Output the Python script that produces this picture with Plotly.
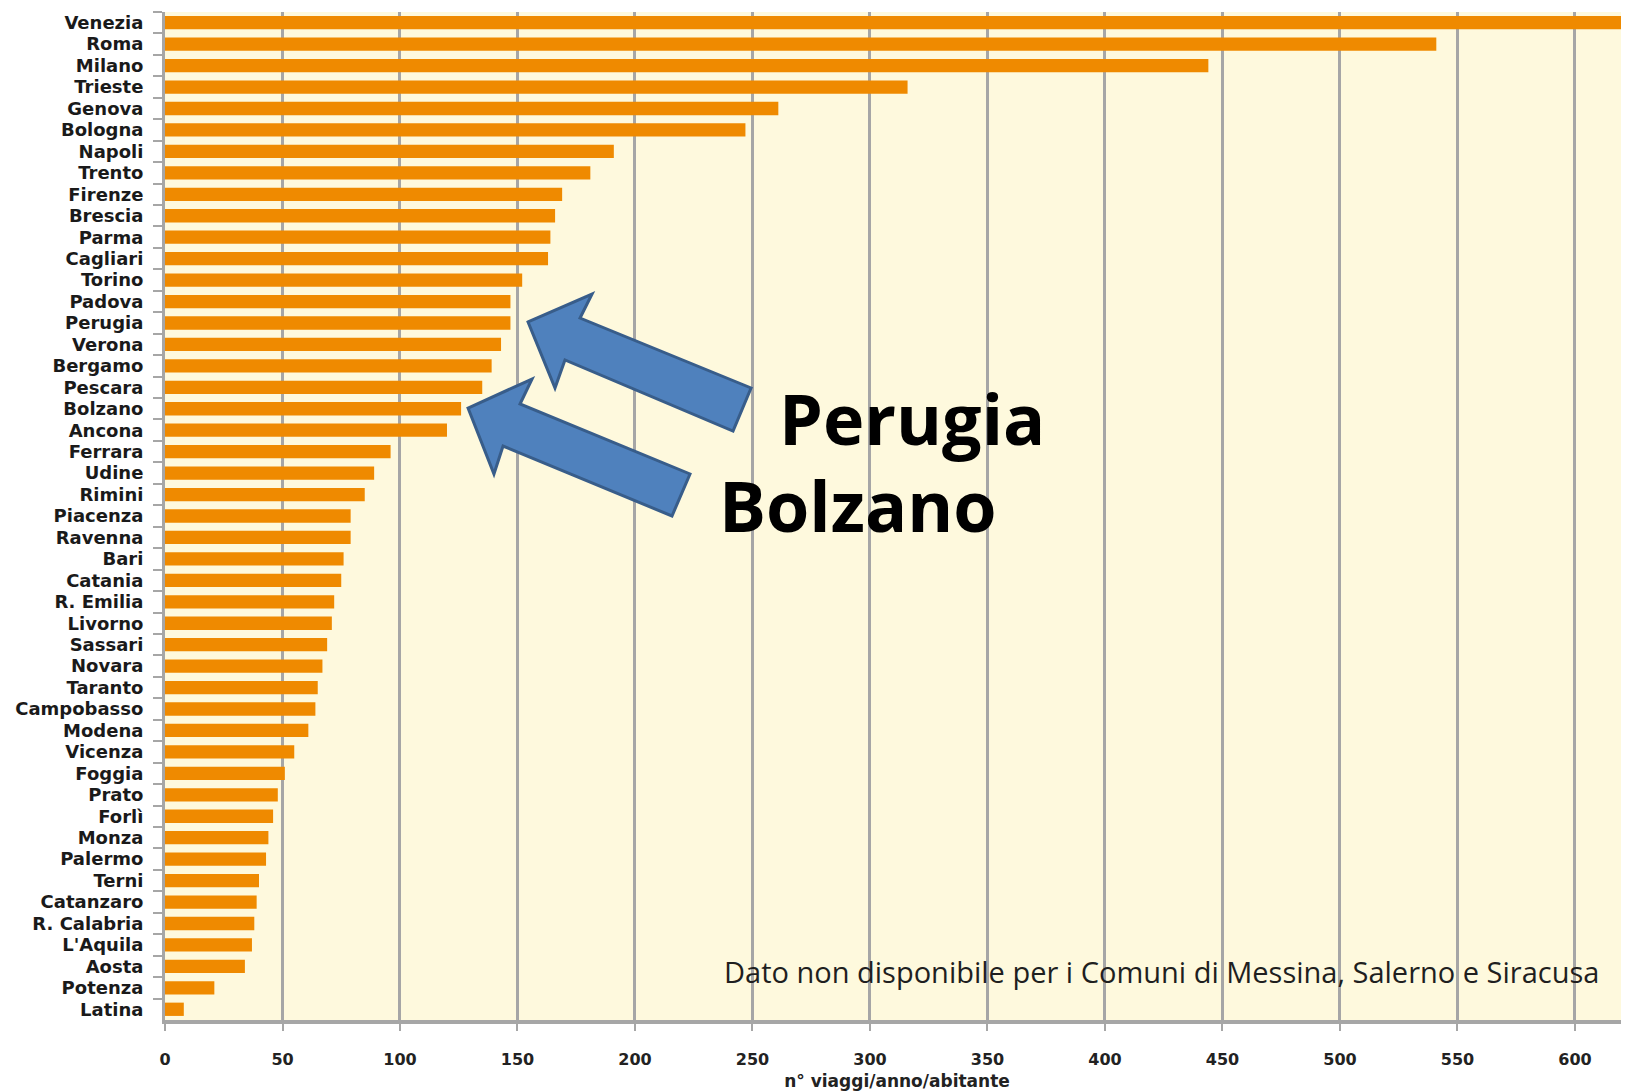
import plotly.graph_objects as go

# ---------- DATA ----------
cities = [
    "Venezia", "Roma", "Milano", "Trieste", "Genova", "Bologna", "Napoli", "Trento",
    "Firenze", "Brescia", "Parma", "Cagliari", "Torino", "Padova", "Perugia", "Verona",
    "Bergamo", "Pescara", "Bolzano", "Ancona", "Ferrara", "Udine", "Rimini", "Piacenza",
    "Ravenna", "Bari", "Catania", "R. Emilia", "Livorno", "Sassari", "Novara", "Taranto",
    "Campobasso", "Modena", "Vicenza", "Foggia", "Prato", "Forlì", "Monza", "Palermo",
    "Terni", "Catanzaro", "R. Calabria", "L'Aquila", "Aosta", "Potenza", "Latina",
]
trips = [
    650, 541, 444, 316, 261, 247, 191, 181,
    169, 166, 164, 163, 152, 147, 147, 143,
    139, 135, 126, 120, 96, 89, 85, 79,
    79, 76, 75, 72, 71, 69, 67, 65,
    64, 61, 55, 51, 48, 46, 44, 43,
    40, 39, 38, 37, 34, 21, 8,
]
x_ticks = list(range(0, 601, 50))

highlight = ["Perugia", "Bolzano"]
note = "Dato non disponibile per i Comuni di Messina, Salerno e Siracusa"
x_title = "n° viaggi/anno/abitante"

# ---------- LAYOUT HELPERS ----------
OFF = 8                      # page body margin around the figure
W, H = 1629 - OFF, 1091 - OFF
L, R, T, B = 157, 0, 4, 71


def px(x, y):
    # pixel position on the page -> paper coordinates
    x, y = x - OFF, y - OFF
    return (x - L) / (W - L - R), (H - B - y) / (H - T - B)


def arrow_path(points):
    pts = [px(*p) for p in points]
    return "M " + " L ".join(f"{a:.4f},{b:.4f}" for a, b in pts) + " Z"


# block arrows: tip, top barb, inner top, tail top, tail bottom, inner bottom, bottom barb
arrow_upper = [(528, 322), (592, 294), (580, 318), (751, 388), (733, 431), (565, 360), (555, 388)]
arrow_lower = [(468, 408), (532, 379), (520, 404), (690, 474), (672, 516), (503, 446), (494, 474)]

FONT = "Open Sans, Arial, sans-serif"
AXFONT = "DejaVu Sans, Arial, sans-serif"

fig = go.Figure(go.Bar(
    x=trips,
    y=cities,
    orientation="h",
    width=0.62,
    marker=dict(color="#EF8A00", line=dict(width=0)),
))

for pts in (arrow_upper, arrow_lower):
    fig.add_shape(type="path", path=arrow_path(pts), xref="paper", yref="paper",
                  fillcolor="#4F81BD", line=dict(color="#385D8A", width=3), layer="above")

# big labels
tx, ty = px(777, 418)
fig.add_annotation(text="<b>" + highlight[0] + "</b>", x=tx, y=ty, xref="paper", yref="paper",
                   xanchor="left", yanchor="middle", showarrow=False,
                   font=dict(family=FONT, size=70, color="#000000"))
tx, ty = px(717, 505)
fig.add_annotation(text="<b>" + highlight[1] + "</b>", x=tx, y=ty, xref="paper", yref="paper",
                   xanchor="left", yanchor="middle", showarrow=False,
                   font=dict(family=FONT, size=70, color="#000000"))

# footnote inside the plot
tx, ty = px(1601, 971)
fig.add_annotation(text=note, x=tx, y=ty, xref="paper", yref="paper",
                   xanchor="right", yanchor="middle", showarrow=False,
                   font=dict(family=FONT, size=29, color="#1f1f1f"))

fig.update_layout(
    width=W, height=H,
    margin=dict(l=L, r=R, t=T, b=B, autoexpand=False),
    paper_bgcolor="white",
    plot_bgcolor="#FEF9DD",
    showlegend=False,
)
fig.update_xaxes(
    range=[0, 623],
    tickvals=x_ticks,
    showgrid=True, gridcolor="#A6A6A6", gridwidth=3,
    showline=True, linecolor="#A6A6A6", linewidth=4,
    ticks="outside", ticklen=7, tickcolor="#A6A6A6", tickwidth=2,
    ticklabelstandoff=15,
    tickfont=dict(family=AXFONT, size=16, color="#222222", weight="bold"),
    title=dict(text="<b>" + x_title + "</b>", standoff=8,
               font=dict(family=AXFONT, size=17, color="#222222")),
    zeroline=False,
    automargin=False,
)
fig.update_yaxes(
    categoryorder="array", categoryarray=cities,
    autorange="reversed",
    dtick=1,
    showline=True, linecolor="#A6A6A6", linewidth=3,
    ticks="outside", tickson="boundaries", ticklen=9, tickcolor="#A6A6A6", tickwidth=2,
    ticklabelstandoff=15,
    tickfont=dict(family=AXFONT, size=18, color="#1a1a1a", weight="bold"),
    showgrid=False,
    automargin=False,
)

fig.write_html("out.html")
